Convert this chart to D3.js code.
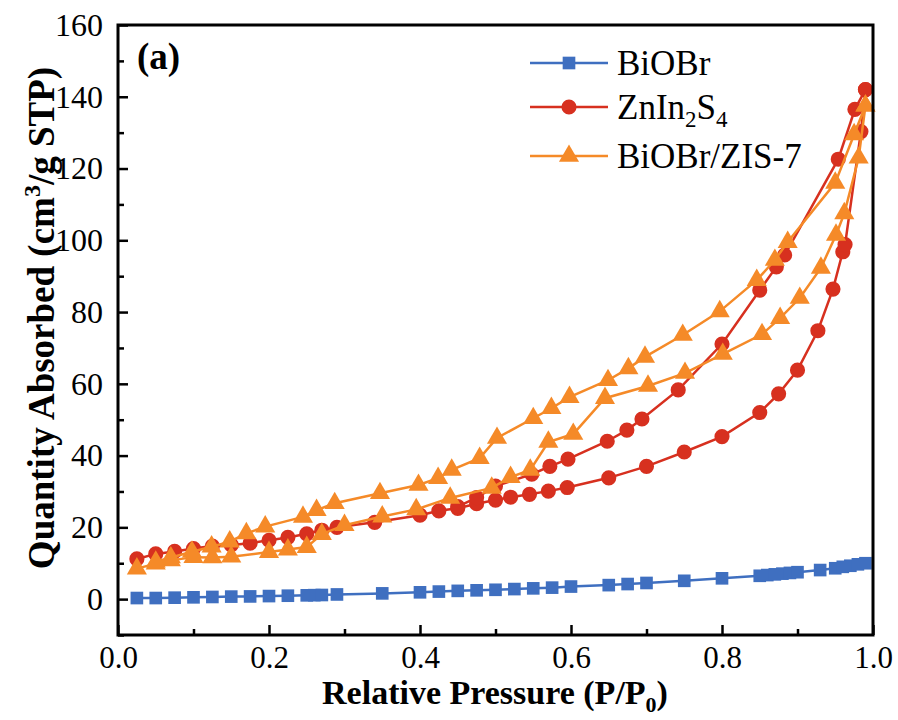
<!DOCTYPE html>
<html>
<head>
<meta charset="utf-8">
<script src="https://cdn.jsdelivr.net/npm/d3@7/dist/d3.min.js"></script>
<style>
  html, body { margin: 0; padding: 0; background: #fff; }
  svg text { font-family: "Liberation Serif", "Times New Roman", serif; fill: #000; }
</style>
</head>
<body>
<svg id="chart" width="898" height="720"></svg>
<script>
// N2 adsorption–desorption isotherms
const xTicks = [0.0, 0.2, 0.4, 0.6, 0.8, 1.0];
const yTicks = [0, 20, 40, 60, 80, 100, 120, 140, 160];

// BiOBr
const biobrP = [0.025,0.05,0.075,0.1,0.125,0.15,0.175,0.2,0.225,0.25,0.26,0.27,0.29,0.35,0.4,0.425,0.45,0.475,0.5,0.525,0.55,0.575,0.6,0.65,0.675,0.7,0.75,0.8,0.85,0.86,0.87,0.88,0.89,0.9,0.93,0.95,0.96,0.97,0.98,0.99];
const biobrQ = [0.3,0.3,0.4,0.5,0.6,0.7,0.75,0.85,0.95,1.05,1.1,1.15,1.3,1.6,1.9,2.1,2.3,2.45,2.6,2.8,3.0,3.2,3.5,3.9,4.2,4.5,5.1,5.8,6.5,6.7,6.9,7.1,7.3,7.5,8.1,8.6,9.0,9.3,9.7,10.0];

// ZnIn2S4: adsorption then desorption branch
const zisAdsP = [0.025,0.05,0.075,0.1,0.125,0.15,0.175,0.2,0.225,0.25,0.27,0.29,0.34,0.4,0.425,0.45,0.475,0.5,0.52,0.545,0.57,0.595,0.65,0.7,0.75,0.8,0.85,0.875,0.9,0.927,0.947,0.96,0.963,0.984,0.99];
const zisAdsQ = [11.2,12.6,13.3,14.1,14.8,15.1,15.6,16.4,17.2,18.2,19.2,20.0,21.4,23.4,24.6,25.3,26.6,27.6,28.4,29.2,30.1,31.1,33.8,37.0,41.0,45.3,52.0,57.2,63.8,74.8,86.4,96.8,98.8,130.3,142.0];
const zisDesP = [0.99,0.976,0.954,0.883,0.872,0.85,0.8,0.742,0.694,0.674,0.648,0.596,0.572,0.548,0.5,0.475,0.45];
const zisDesQ = [142.0,136.5,122.6,95.9,92.6,86.1,71.1,58.3,50.2,47.1,44.0,39.0,37.0,34.8,31.5,28.3,25.8];

// BiOBr/ZIS-7: adsorption then desorption branch
const compAdsP = [0.025,0.05,0.07,0.1,0.125,0.15,0.2,0.225,0.25,0.27,0.3,0.35,0.395,0.44,0.495,0.52,0.546,0.57,0.603,0.645,0.702,0.751,0.801,0.853,0.877,0.903,0.931,0.951,0.962,0.981,0.99];
const compAdsQ = [8.5,9.9,10.8,11.7,11.6,11.8,13.1,13.8,14.5,18.1,20.6,23.0,25.0,28.2,31.0,34.0,36.0,43.8,46.0,56.0,59.4,63.0,68.3,73.8,78.3,83.9,92.3,101.5,107.5,123.0,137.5];
const compDesP = [0.99,0.975,0.95,0.887,0.87,0.846,0.797,0.748,0.698,0.676,0.649,0.598,0.574,0.55,0.502,0.479,0.442,0.424,0.398,0.347,0.287,0.263,0.245,0.195,0.17,0.148,0.124,0.098,0.07,0.05];
const compDesQ = [137.5,129.5,116.0,99.5,94.5,88.9,80.2,73.6,67.5,64.3,61.0,56.3,53.2,50.4,44.9,39.3,36.0,33.7,31.8,29.5,26.7,24.8,22.9,20.2,18.3,16.0,14.6,13.2,11.6,10.4];

const svg = d3.select("#chart");
const plotL = 118, plotT = 25, plotR = 873, plotB = 635;

const x = d3.scaleLinear().domain([0, 1]).range([plotL, plotR]);
const y = d3.scaleLinear().domain([-10, 160]).range([plotB, plotT]);

const pts = (P, Q) => P.map((p, i) => [p, Q[i]]);

const series = [
  { name: "BiOBr", color: "#3f6fc0", shape: d3.symbolSquare, size: 160,
    data: pts(biobrP, biobrQ) },
  { name: "ZnIn2S4", color: "#d7301f", shape: d3.symbolCircle, size: 180,
    data: pts(zisAdsP, zisAdsQ).concat(pts(zisDesP, zisDesQ)) },
  { name: "BiOBr/ZIS-7", color: "#f58a28", shape: d3.symbolTriangle, size: 175,
    data: pts(compAdsP, compAdsQ).concat(pts(compDesP, compDesQ)) }
];

// ticks pointing inward
const axisX = g => {
  g.attr("transform", `translate(0,${plotB})`)
   .call(d3.axisBottom(x).tickValues(d3.range(0.1, 1.0, 0.2)).tickSize(-6).tickFormat(""))
   .call(a => a.select(".domain").remove());
  g.append("g")
   .call(d3.axisBottom(x).tickValues(xTicks).tickSize(-10).tickPadding(11).tickFormat(d3.format(".1f")))
   .call(a => a.select(".domain").remove())
   .call(a => a.selectAll("text").attr("font-size", 31).attr("dy", "0.71em"));
  g.selectAll("line").attr("stroke", "#000").attr("stroke-width", 2.5);
};
const axisY = g => {
  g.attr("transform", `translate(${plotL},0)`)
   .call(d3.axisLeft(y).tickValues(d3.range(-10, 160, 20)).tickSize(-6).tickFormat(""))
   .call(a => a.select(".domain").remove());
  g.append("g")
   .call(d3.axisLeft(y).tickValues(yTicks).tickSize(-10).tickPadding(15).tickFormat(d3.format("d")))
   .call(a => a.select(".domain").remove())
   .call(a => a.selectAll("text").attr("font-size", 32));
  g.selectAll("line").attr("stroke", "#000").attr("stroke-width", 2.5);
};

svg.append("g").call(axisX);
svg.append("g").call(axisY);

const line = d3.line().x(d => x(d[0])).y(d => y(d[1]));

series.forEach(s => {
  const g = svg.append("g");
  g.append("path").datum(s.data)
    .attr("d", line).attr("fill", "none")
    .attr("stroke", s.color).attr("stroke-width", 2.5);
  g.selectAll("path.m").data(s.data).join("path")
    .attr("class", "m")
    .attr("transform", d => `translate(${x(d[0])},${y(d[1])})`)
    .attr("d", d3.symbol().type(s.shape).size(s.size))
    .attr("fill", s.color);
});

// frame
svg.append("rect")
  .attr("x", plotL).attr("y", plotT)
  .attr("width", plotR - plotL).attr("height", plotB - plotT)
  .attr("fill", "none").attr("stroke", "#000").attr("stroke-width", 3);

// panel label
svg.append("text").attr("x", 137).attr("y", 69)
  .attr("font-size", 37).attr("font-weight", "bold").text("(a)");

// legend
const legY = [63, 107, 156];
const leg = svg.append("g");
series.forEach((s, i) => {
  leg.append("line").attr("x1", 530).attr("x2", 608)
    .attr("y1", legY[i]).attr("y2", legY[i])
    .attr("stroke", s.color).attr("stroke-width", 2.5);
  leg.append("path")
    .attr("transform", `translate(569,${legY[i]})`)
    .attr("d", d3.symbol().type(s.shape).size(s.size))
    .attr("fill", s.color);
});
const lt = (i) => leg.append("text").attr("x", 617).attr("y", legY[i] + 12).attr("font-size", 35);
lt(0).text("BiOBr");
const t1 = lt(1);
t1.append("tspan").text("ZnIn");
t1.append("tspan").attr("font-size", 23).attr("dy", 8).text("2");
t1.append("tspan").attr("dy", -8).text("S");
t1.append("tspan").attr("font-size", 23).attr("dy", 8).text("4");
lt(2).text("BiOBr/ZIS-7");

// axis titles
const xt = svg.append("text").attr("x", 495).attr("y", 704)
  .attr("text-anchor", "middle").attr("font-size", 34).attr("font-weight", "bold");
xt.append("tspan").text("Relative Pressure (P/P");
xt.append("tspan").attr("font-size", 22).attr("dy", 8).text("0");
xt.append("tspan").attr("dy", -8).text(")");

const yt = svg.append("text")
  .attr("transform", `translate(54,318) rotate(-90)`)
  .attr("text-anchor", "middle").attr("font-size", 37).attr("font-weight", "bold");
yt.append("tspan").text("Quantity Absorbed (cm");
yt.append("tspan").attr("font-size", 24).attr("dy", -14).text("3");
yt.append("tspan").attr("dy", 14).text("/g STP)");
</script>
</body>
</html>
